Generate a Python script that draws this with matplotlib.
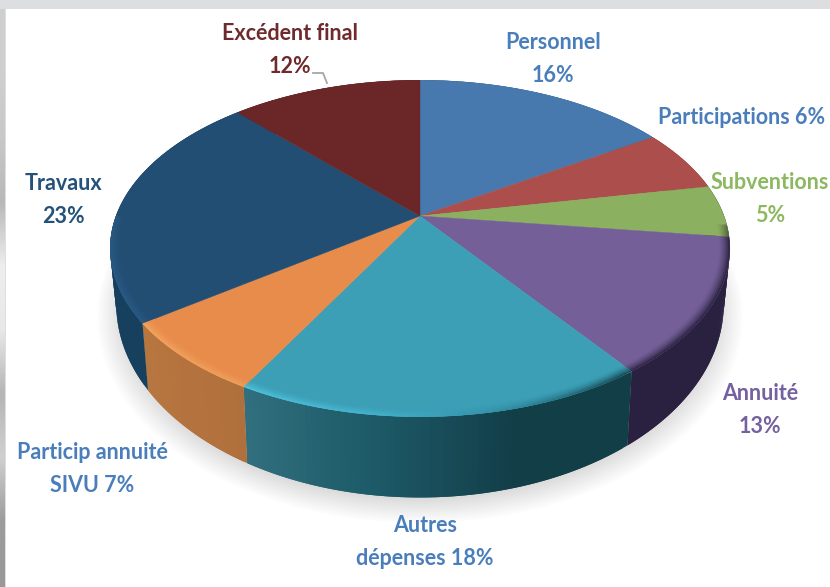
#!/usr/bin/env python3

import numpy as np
import matplotlib
matplotlib.use("Agg")
import matplotlib.pyplot as plt
from matplotlib.collections import PolyCollection
from matplotlib.colors import to_rgb, LinearSegmentedColormap

labels = ["Personnel\n16%", "Participations 6%", "Subventions\n5%", "Annuité\n13%",
          "Autres\ndépenses 18%", "Particip annuité\nSIVU 7%", "Travaux\n23%", "Excédent final\n12%"]
values = [16, 6, 5, 13, 18, 7, 23, 12]

top_colors = ["#4879ae", "#ab4e4c", "#8bb060", "#745f98", "#3c9fb6", "#e88c4c", "#224e74", "#6b2628"]
text_colors = ["#4a7ebb", "#4a7ebb", "#8cb860", "#7560a0", "#4a7ebb", "#4a7ebb", "#24527a", "#6e2a2c"]
# side wall colours, from start to end of each slice (clockwise)
side_colors = [["#35577c", "#35577c"], ["#7a3836", "#7a3836"], ["#2a2140", "#2a2140"], ["#2a2140", "#2a2140"],
               ["#123e48", "#123e48", "#1d5a68", "#33707f"], ["#b0703d", "#b8763f"], ["#17405f", "#17405f"], ["#4a1a1c", "#4a1a1c"]]
rim_colors = [["#4879ae", "#4879ae"], ["#ab4e4c", "#ab4e4c"], ["#8bb060", "#4a5a38"], ["#2a2140", "#2a2140"],
              ["#143f49", "#2f8aa0", "#46b4cf", "#50c4e0"], ["#f0a05c", "#f4a560"], ["#2a5a84", "#28577f"], ["#6b2628", "#6b2628"]]
label_x = [553, 742, 770, 760, 425, 92, 63, 290]
label_y = [59, 118, 199, 410, 542, 469, 200, 50]
strip_colors = ["#cfcfcf", "#cfcfcf", "#c8c8c8", "#b8b8b8", "#eeeeee", "#e8e8e8", "#b5b5b5", "#d0d0d0", "#9c9c9c", "#999999"]

plt.rcParams["font.family"] = ["Lato", "DejaVu Sans"]


def project(theta, r=1.0, cx=420, cy=216, a=304, b=162, k=0.193):
    X = r * np.sin(theta)
    Y = r * np.cos(theta)
    d = 1 + k * Y
    return cx + a * X / d, cy - b * Y / d


def project_low(theta, r=1.0):
    return project(theta, r, cy=267, a=298, b=186)


def mix(c1, c2, t):
    return tuple((1 - t) * np.array(to_rgb(c1)) + t * np.array(to_rgb(c2)))


def stops(cols, t):
    pos = t * (len(cols) - 1)
    i = min(int(pos), len(cols) - 2)
    return mix(cols[i], cols[i + 1], pos - i)


fig = plt.figure(figsize=(8.30, 5.87), dpi=100)
ax = fig.add_axes([0, 0, 1, 1])

# screenshot background around the white panel
fig.patch.set_facecolor("#dddedf")
ax.fill_between([6, 830], 9, 587, color="white", lw=0, zorder=0)
cmap = LinearSegmentedColormap.from_list("strip", strip_colors)
ax.imshow(np.linspace(0, 1, 200)[:, None], cmap=cmap, extent=[0, 4, 587, 9], aspect="auto", zorder=0)
ax.set_xlim(0, 830)
ax.set_ylim(587, 0)
ax.axis("off")

# soft shadow under the pie
t = np.linspace(0, 2 * np.pi, 300)
for s in np.linspace(1.06, 0.98, 12):
    xs, ys = project(t, s, cy=275, a=298, b=186)
    ax.fill(xs, ys, color="black", alpha=0.012, lw=0, zorder=1)

edges = np.cumsum([0] + values) / sum(values) * 2 * np.pi

# side wall, each strip runs a bit under the next one so no seams show
polys, cols = [], []
for i in range(len(values)):
    th = np.linspace(edges[i], edges[i + 1], 61)
    for j in range(60):
        seg = th[j:j + 3]
        x1, y1 = project(seg)
        x2, y2 = project_low(seg)
        polys.append(np.column_stack([np.r_[x1, x2[::-1]], np.r_[y1, y2[::-1]]]))
        cols.append(stops(side_colors[i], (j + 0.5) / 60))
ax.add_collection(PolyCollection(polys, facecolors=cols, linewidths=0, zorder=2))

# top of the pie
for i in range(len(values)):
    th = np.linspace(edges[i], edges[i + 1], 80)
    x, y = project(th)
    ax.fill(np.r_[420, x], np.r_[216, y], color=top_colors[i], lw=0.3, zorder=3)

# bevel along the front rim
polys, cols = [], []
rings = np.linspace(0.965, 1.0, 8)
for i in range(len(values)):
    th = np.linspace(edges[i], edges[i + 1], 61)
    for j in range(60):
        if np.cos(th[j]) > -0.05:
            continue
        edge = stops(rim_colors[i], (j + 0.5) / 60)
        for n in range(7):
            seg = th[j:j + 3]
            x1, y1 = project(seg, rings[n])
            x2, y2 = project(seg, rings[n + 1])
            polys.append(np.column_stack([np.r_[x1, x2[::-1]], np.r_[y1, y2[::-1]]]))
            cols.append(mix(top_colors[i], edge, ((n + 0.5) / 7) ** 1.5))
ax.add_collection(PolyCollection(polys, facecolors=cols, linewidths=0, zorder=4))

# leader line of the last label
ax.plot([313, 323, 327], [73, 73, 83], color="#a6a6a6", lw=1.3, zorder=5)

for i in range(len(labels)):
    ax.text(label_x[i], label_y[i], labels[i], color=text_colors[i], fontsize=15.5, fontweight="bold",
            ha="center", va="center", linespacing=1.68, zorder=6)

plt.savefig("out.png", dpi=100, facecolor=fig.get_facecolor())
